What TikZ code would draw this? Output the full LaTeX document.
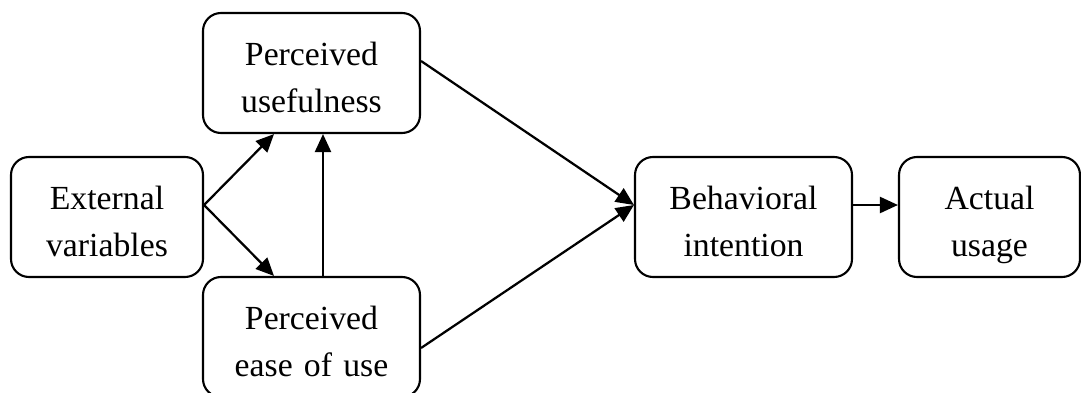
\documentclass[tikz,border=0pt]{standalone}
\usepackage{fontspec}
\setmainfont{Liberation Serif}
\usetikzlibrary{arrows,arrows.meta,positioning,shapes}

\begin{document}
\begin{tikzpicture}[every node/.style={font=\fontsize{24}{33.5}\selectfont},
                box/.style={draw, line width=1.5pt, rounded corners=0.45cm, align=center, minimum height=3cm, inner sep=0pt,
                    execute at begin node={\rule{0pt}{28pt}}, execute at end node={\rule[-5.5pt]{0pt}{5.5pt}}},
                link/.style={-{Triangle[length=0.45cm,width=0.4cm]}, line width=1.6pt}]
                \useasboundingbox (0,0) rectangle (27.025,9.8);
                \node[box, text width=4.8cm] (ext) at (2.675,4.375) {External\\variables};
                \node[box, text width=5.425cm] (pu) at (7.7875,7.975) {Perceived\\usefulness};
                \node[box, text width=5.425cm] (peou) at (7.7875,1.375) {Perceived\\ease of use};
                \node[box, text width=5.425cm] (bi) at (18.5875,4.375) {Behavioral\\intention};
                \node[box, text width=4.525cm] (au) at (24.7375,4.375) {Actual\\usage};
                \draw[link] ([yshift=0.3cm]ext.east) -- ([xshift=-0.9375cm]pu.south);
                \draw[link] ([yshift=0.3cm]ext.east) -- ([xshift=-0.9375cm]peou.north);
                \draw[link] ([xshift=0.2875cm]peou.north) -- ([xshift=0.2875cm]pu.south);
                \draw[link] ([yshift=0.3cm]pu.east) -- ([yshift=0.3cm]bi.west);
                \draw[link] ([yshift=-0.275cm]peou.east) -- ([yshift=0.3cm]bi.west);
                \draw[link] ([yshift=0.3cm]bi.east) -- ([yshift=0.3cm]au.west);
            \end{tikzpicture}
\end{document}
